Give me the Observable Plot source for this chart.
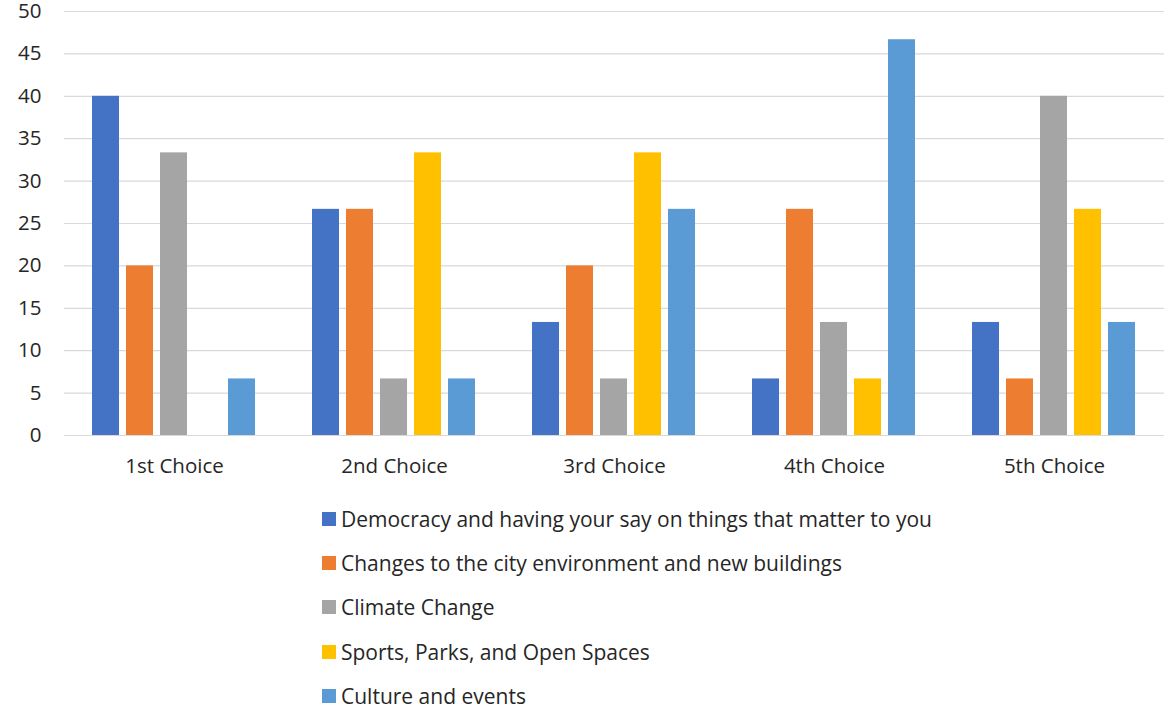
<!DOCTYPE html>
<html>
<head>
<meta charset="utf-8">
<script src="https://cdn.jsdelivr.net/npm/d3@7"></script>
<script src="https://cdn.jsdelivr.net/npm/@observablehq/plot@0.6"></script>
<style>
  html, body { margin: 0; padding: 0; background: #fff; }
  body { width: 1168px; height: 719px; overflow: hidden; font-family: "Open Sans", sans-serif; }
  #legend { padding-left: 322px; padding-top: 1px; font-size: 21px; color: #262626; }
  #legend .row { height: 44.2px; display: flex; align-items: center; }
  #legend .sw { width: 14px; height: 14px; margin-right: 5px; flex: none; }
</style>
</head>
<body>
<div id="chart"></div>
<div id="legend"></div>
<script>
const groups = ["1st Choice", "2nd Choice", "3rd Choice", "4th Choice", "5th Choice"];
const seriesNames = [
  "Democracy and having your say on things that matter to you",
  "Changes to the city environment and new buildings",
  "Climate Change",
  "Sports, Parks, and Open Spaces",
  "Culture and events"
];
const seriesColors = ["#4472C4", "#ED7D31", "#A5A5A5", "#FFC000", "#5B9BD5"];
const democracy = [40, 26.67, 13.33, 6.67, 13.33];
const cityEnvironment = [20, 26.67, 20, 26.67, 6.67];
const climateChange = [33.33, 6.67, 6.67, 13.33, 40];
const sportsParks = [0, 33.33, 33.33, 6.67, 26.67];
const culture = [6.67, 6.67, 26.67, 46.67, 13.33];
const yTicks = [0, 5, 10, 15, 20, 25, 30, 35, 40, 45, 50];

const seriesValues = [democracy, cityEnvironment, climateChange, sportsParks, culture];
const data = [];
seriesNames.forEach((s, si) => {
  groups.forEach((g, gi) => {
    data.push({group: g, series: s, value: seriesValues[si][gi]});
  });
});

const chart = Plot.plot({
  width: 1168,
  height: 496,
  marginTop: 11,
  marginBottom: 61,
  marginLeft: 62,
  marginRight: 3,
  style: {fontFamily: "'Open Sans', sans-serif", fontSize: "20.5px", color: "#262626", background: "#fff", overflow: "visible"},
  fx: {domain: groups, padding: 0, axis: "bottom", tickSize: 0, tickPadding: 23, label: null},
  x: {domain: seriesNames, paddingInner: 0.2, paddingOuter: 0.825, axis: null},
  y: {domain: [0, 50], ticks: yTicks, tickSize: 0, tickPadding: 23, label: null},
  color: {domain: seriesNames, range: seriesColors},
  marks: [
    Plot.gridY(yTicks, {stroke: "#d9d9d9", strokeOpacity: 1, strokeWidth: 1.2}),
    Plot.barY(data, {fx: "group", x: "series", y: "value", fill: "series", inset: 0}),
    Plot.axisY(yTicks, {tickSize: 0, tickPadding: 23, fontSize: 20.5})
  ]
});
document.getElementById("chart").appendChild(chart);

const legend = d3.select("#legend");
seriesNames.forEach((s, i) => {
  const row = legend.append("div").attr("class", "row");
  row.append("div").attr("class", "sw").style("background", seriesColors[i]);
  row.append("span").text(s);
});
</script>
</body>
</html>
